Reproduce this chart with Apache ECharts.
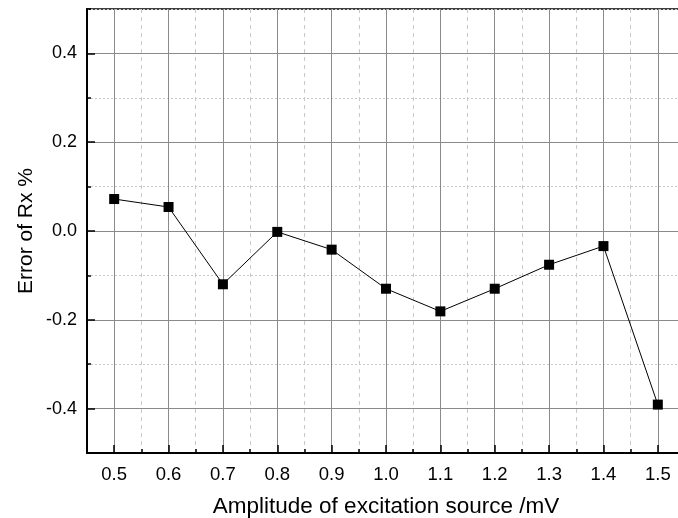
<!DOCTYPE html>
<html>
<head>
<meta charset="utf-8">
<script src="https://cdn.jsdelivr.net/npm/echarts@6/dist/echarts.min.js"></script>
<style>
  html, body { margin: 0; padding: 0; background: #fff; }
  #chart { width: 678px; height: 518px; }
</style>
</head>
<body>
<div id="chart"></div>
<script>
  // amplitude of the excitation source (mV) and the error of Rx (%)
  var amplitude = [0.5, 0.6, 0.7, 0.8, 0.9, 1.0, 1.1, 1.2, 1.3, 1.4, 1.5];
  var errorRx = [0.072, 0.054, -0.12, -0.002, -0.042, -0.13, -0.181, -0.13, -0.076, -0.034, -0.391];

  var xRange = [0.45, 1.55];
  var yRange = [-0.5, 0.5];

  var points = [];
  for (var i = 0; i < amplitude.length; i++) {
    points.push([amplitude[i], errorRx[i]]);
  }

  var font = 'Liberation Sans, Arial, sans-serif';

  // only every 0.1 on x and every 0.2 on y gets a label
  function xLabel(v) {
    var k = Math.round(v * 100);
    return k % 10 === 0 ? (k / 100).toFixed(1) : '';
  }
  function yLabel(v) {
    var k = Math.round(v * 10);
    return k % 2 === 0 ? (k / 10).toFixed(1) : '';
  }

  var chart = echarts.init(document.getElementById('chart'));
  var option = {
    animation: false,
    grid: {
      left: 87, right: -7, top: 9, bottom: 65,
      outerBoundsMode: 'none',
      show: true, borderColor: '#000', borderWidth: 1.5
    },
    xAxis: [
      {
        // grid lines and ticks; the minor ones land on 0.5, 0.6 ...
        type: 'value',
        min: xRange[0], max: xRange[1], interval: 0.1,
        name: 'Amplitude of excitation source /mV',
        nameLocation: 'middle', nameGap: 42,
        nameTextStyle: { fontFamily: font, fontSize: 22.5, color: '#000' },
        axisLine: { onZero: false, lineStyle: { color: '#000', width: 2 } },
        axisTick: { inside: true, length: 4, lineStyle: { color: '#000', width: 1.5 } },
        axisLabel: { show: false },
        splitLine: { show: true, lineStyle: { color: '#c8c8c8', type: [4, 4], width: 1 } },
        minorTick: { show: true, splitNumber: 2, length: 8, lineStyle: { color: '#000', width: 1.5 } },
        minorSplitLine: { show: true, lineStyle: { color: '#8a8a8a', width: 1 } }
      },
      {
        // labels only
        type: 'value', position: 'bottom',
        min: xRange[0], max: xRange[1], interval: 0.05,
        axisLine: { show: false, onZero: false }, axisTick: { show: false }, splitLine: { show: false },
        axisLabel: { formatter: xLabel, margin: 12, fontFamily: font, fontSize: 18.5, color: '#000' }
      }
    ],
    yAxis: [
      {
        type: 'value',
        min: yRange[0], max: yRange[1], interval: 0.2,
        name: 'Error of Rx %',
        nameLocation: 'middle', nameGap: 50,
        nameTextStyle: { fontFamily: font, fontSize: 21, color: '#000' },
        axisLine: { onZero: false, lineStyle: { color: '#000', width: 2 } },
        axisTick: { inside: true, length: 4, lineStyle: { color: '#000', width: 1.5 } },
        axisLabel: { show: false },
        splitLine: { show: true, lineStyle: { color: '#c8c8c8', type: [2, 2], width: 1 } },
        minorTick: { show: true, splitNumber: 2, length: 8, lineStyle: { color: '#000', width: 1.5 } },
        minorSplitLine: { show: true, lineStyle: { color: '#8a8a8a', width: 1 } }
      },
      {
        type: 'value', position: 'left',
        min: yRange[0], max: yRange[1], interval: 0.1,
        axisLine: { show: false, onZero: false }, axisTick: { show: false }, splitLine: { show: false },
        axisLabel: { formatter: yLabel, margin: 10, fontFamily: font, fontSize: 18, color: '#000' }
      }
    ],
    series: [
      {
        type: 'line',
        xAxisIndex: 0, yAxisIndex: 0,
        data: points,
        symbol: 'rect', symbolSize: 10,
        itemStyle: { color: '#000' },
        lineStyle: { color: '#000', width: 1 }
      }
    ]
  };
  chart.setOption(option);
</script>
</body>
</html>
